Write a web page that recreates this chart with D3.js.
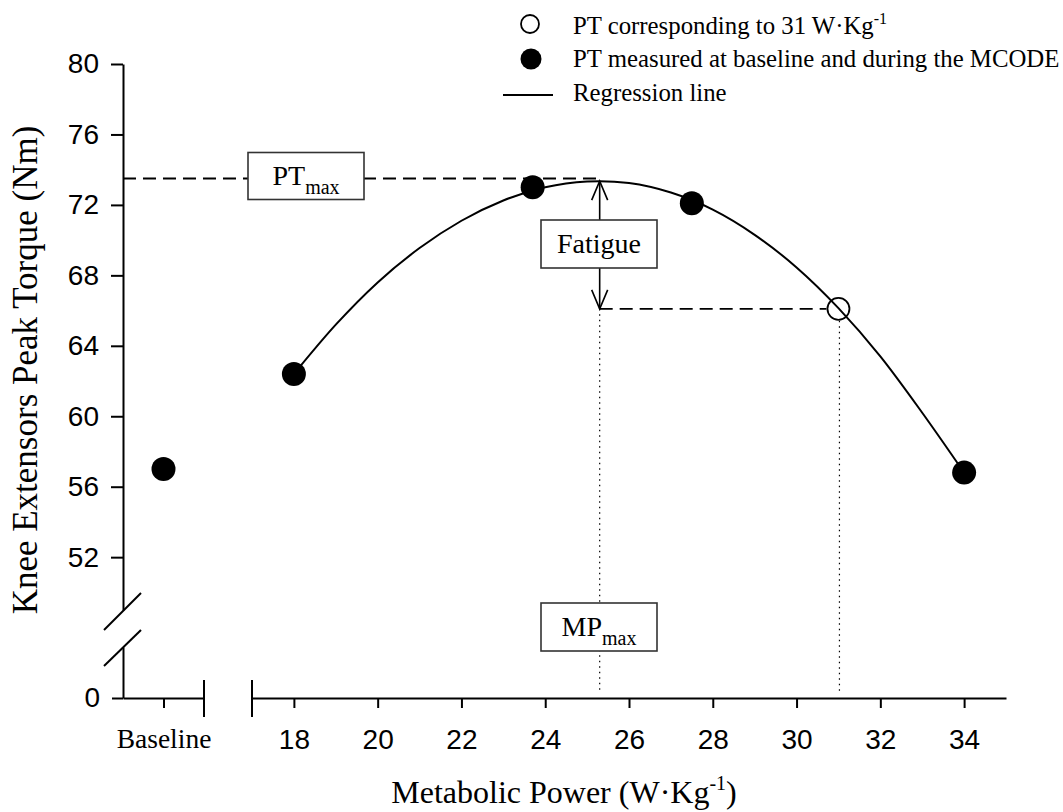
<!DOCTYPE html>
<html>
<head>
<meta charset="utf-8">
<script src="https://cdnjs.cloudflare.com/ajax/libs/d3/7.8.5/d3.min.js"></script>
<style>
  body { margin: 0; background: #fff; }
  .serif { font-family: "Liberation Serif", "Times New Roman", serif; fill: #000; }
  .axis text { font-family: "Liberation Sans", Arial, sans-serif; font-size: 28px; fill: #000; }
  .axis line, .axis path { stroke: #000; stroke-width: 2; }
</style>
</head>
<body>
<div class="render"></div>
<script>
// values
var categories = ["Baseline"];
var baselinePT = [57.0];
var mcodePower = [18, 23.7, 27.5, 34];
var mcodePT = [62.4, 73.0, 72.1, 56.8];
var openPower = [31];
var openPT = [66.1];
// regression line
var regPower = [18, 19, 20, 21, 22, 23, 24, 25, 25.3, 26, 27, 28, 29, 30, 31, 32, 33, 34];
var regPT = [62.4, 65.2, 67.6, 69.55, 71.1, 72.25, 73.0, 73.33, 73.35, 73.24, 72.7, 71.73, 70.3, 68.45, 66.14, 63.4, 60.2, 56.8];
var ptMax = 73.5;
var mpMax = 25.3;
var yTicks = [52, 56, 60, 64, 68, 72, 76, 80];
var xTicks = [18, 20, 22, 24, 26, 28, 30, 32, 34];

var w = 1063, h = 812;
var svg = d3.select(".render").append("svg").attr("width", w).attr("height", h);

var y = d3.scaleLinear().domain([49, 80]).range([610, 64]);
var y0 = d3.scaleLinear().domain([0, 2.9]).range([698, 647]);
var xb = d3.scalePoint().domain(categories).range([123, 204]).padding(0.5);
var x = d3.scaleLinear().domain([17, 35]).range([252, 1006]);

// axes
svg.append("g").attr("class", "axis").attr("transform", "translate(123,0)")
  .call(d3.axisLeft(y).tickValues(yTicks).tickSize(12).tickSizeOuter(0).tickPadding(12));
svg.append("g").attr("class", "axis").attr("transform", "translate(123,0)")
  .call(d3.axisLeft(y0).tickValues([0]).tickFormat(d3.format("d")).tickSize(11).tickSizeOuter(0).tickPadding(12));

var gxb = svg.append("g").attr("class", "axis").attr("transform", "translate(0,698)")
  .call(d3.axisBottom(xb).tickSize(10).tickSizeOuter(0).tickPadding(20));
gxb.selectAll("text").style("font-family", "Liberation Serif, serif").style("font-size", "27.5px");
var gx = svg.append("g").attr("class", "axis").attr("transform", "translate(0,698)")
  .call(d3.axisBottom(x).tickValues(xTicks).tickSize(10).tickSizeOuter(0).tickPadding(21));

// break marks
svg.append("line").attr("x1", 204).attr("x2", 204).attr("y1", 680).attr("y2", 717).attr("stroke", "#000").attr("stroke-width", 2);
svg.append("line").attr("x1", 252).attr("x2", 252).attr("y1", 680).attr("y2", 717).attr("stroke", "#000").attr("stroke-width", 2);
svg.append("line").attr("x1", 104).attr("y1", 630).attr("x2", 141).attr("y2", 593).attr("stroke", "#000").attr("stroke-width", 2);
svg.append("line").attr("x1", 104).attr("y1", 666).attr("x2", 141).attr("y2", 630).attr("stroke", "#000").attr("stroke-width", 2);

// axis titles
svg.append("text").attr("class", "serif").attr("x", 564).attr("y", 803).attr("text-anchor", "middle")
  .style("font-size", "32px")
  .html('Metabolic Power (W·Kg<tspan dy="-13" font-size="20">-1</tspan><tspan dy="13">)</tspan>');
svg.append("text").attr("class", "serif").attr("transform", "translate(37,370)rotate(-90)")
  .attr("text-anchor", "middle").style("font-size", "35px")
  .text("Knee Extensors Peak Torque (Nm)");

// annotation lines
svg.append("line").attr("x1", 123).attr("x2", x(mpMax)).attr("y1", y(ptMax)).attr("y2", y(ptMax))
  .attr("stroke", "#000").attr("stroke-width", 1.8).attr("stroke-dasharray", "13,7");
svg.append("line").attr("x1", x(mpMax)).attr("x2", x(openPower[0]) - 12).attr("y1", y(openPT[0])).attr("y2", y(openPT[0]))
  .attr("stroke", "#000").attr("stroke-width", 1.8).attr("stroke-dasharray", "13,7");
svg.append("line").attr("x1", x(mpMax)).attr("x2", x(mpMax)).attr("y1", y(openPT[0])).attr("y2", 693)
  .attr("stroke", "#000").attr("stroke-width", 1.2).attr("stroke-dasharray", "1.5,4");
svg.append("line").attr("x1", x(openPower[0]) + 1).attr("x2", x(openPower[0]) + 1).attr("y1", y(openPT[0]) + 12).attr("y2", 692)
  .attr("stroke", "#000").attr("stroke-width", 1.2).attr("stroke-dasharray", "1.5,4");

// fatigue arrow
var ax = x(mpMax), aTop = y(73.35), aBot = y(openPT[0]);
svg.append("line").attr("x1", ax).attr("x2", ax).attr("y1", aTop).attr("y2", aBot).attr("stroke", "#000").attr("stroke-width", 1.6);
svg.append("path").attr("d", "M" + (ax - 8) + "," + (aTop + 19) + "L" + ax + "," + aTop + "L" + (ax + 8) + "," + (aTop + 19))
  .attr("fill", "none").attr("stroke", "#000").attr("stroke-width", 1.6);
svg.append("path").attr("d", "M" + (ax - 8) + "," + (aBot - 19) + "L" + ax + "," + aBot + "L" + (ax + 8) + "," + (aBot - 19))
  .attr("fill", "none").attr("stroke", "#000").attr("stroke-width", 1.6);

// regression line
var line = d3.line().x(function (d, i) { return x(d); }).y(function (d, i) { return y(regPT[i]); }).curve(d3.curveMonotoneX);
svg.append("path").datum(regPower).attr("d", line).attr("fill", "none").attr("stroke", "#000").attr("stroke-width", 2);

// points
svg.selectAll("circle.base").data(categories).enter().append("circle").attr("class", "base")
  .attr("cx", function (d) { return xb(d); }).attr("cy", function (d, i) { return y(baselinePT[i]); })
  .attr("r", 12).attr("fill", "#000");
svg.selectAll("circle.mcode").data(mcodePower).enter().append("circle").attr("class", "mcode")
  .attr("cx", function (d) { return x(d); }).attr("cy", function (d, i) { return y(mcodePT[i]); })
  .attr("r", 12).attr("fill", "#000");
svg.selectAll("circle.open").data(openPower).enter().append("circle").attr("class", "open")
  .attr("cx", function (d) { return x(d); }).attr("cy", function (d, i) { return y(openPT[i]); })
  .attr("r", 11).attr("fill", "none").attr("stroke", "#000").attr("stroke-width", 1.8);

// labelled boxes
function box(cx, cy, bw, bh, html) {
  svg.append("rect").attr("x", cx - bw / 2).attr("y", cy - bh / 2).attr("width", bw).attr("height", bh)
    .attr("fill", "#fff").attr("stroke", "#333").attr("stroke-width", 1.6);
  svg.append("text").attr("x", cx).attr("y", cy + 9).attr("text-anchor", "middle")
    .style("font-family", "Liberation Serif, serif").style("fill", "#000")
    .style("font-size", "28px").html(html);
}
box(306, 176, 116, 47, 'PT<tspan dy="9" font-size="20">max</tspan>');
box(599, 244, 116, 48, 'Fatigue');
box(599, 627, 116, 48, 'MP<tspan dy="9" font-size="20">max</tspan>');

// legend
var lg = svg.append("g");
lg.append("circle").attr("cx", 530).attr("cy", 24).attr("r", 9).attr("fill", "none").attr("stroke", "#000").attr("stroke-width", 1.8);
lg.append("circle").attr("cx", 531).attr("cy", 59).attr("r", 10.5).attr("fill", "#000");
lg.append("line").attr("x1", 503).attr("x2", 553).attr("y1", 95).attr("y2", 95).attr("stroke", "#000").attr("stroke-width", 2);
lg.append("text").attr("class", "serif").attr("x", 573).attr("y", 34).style("font-size", "24.8px")
  .html('PT corresponding to 31 W·Kg<tspan dy="-10" font-size="16">-1</tspan>');
lg.append("text").attr("class", "serif").attr("x", 573).attr("y", 67).style("font-size", "24.8px")
  .text("PT measured at baseline and during the MCODE");
lg.append("text").attr("class", "serif").attr("x", 573).attr("y", 101).style("font-size", "24.8px")
  .text("Regression line");
</script>
</body>
</html>
